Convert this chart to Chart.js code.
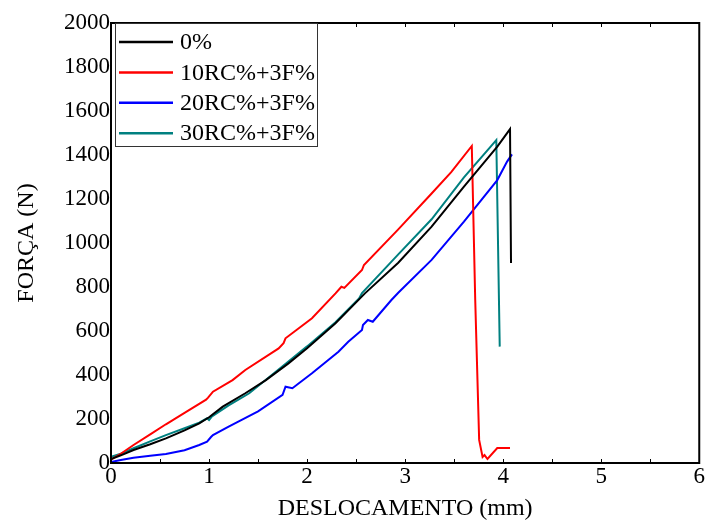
<!DOCTYPE html>
<html>
<head>
<meta charset="utf-8">
<script src="https://cdn.jsdelivr.net/npm/chart.js@4/dist/chart.umd.min.js"></script>
<style>
  html, body { margin: 0; padding: 0; background: #fff; }
  #wrap { width: 705px; height: 523px; }
</style>
</head>
<body>
<div id="wrap"><canvas id="c" width="705" height="523"></canvas></div>
<script>
// ---- data ----
const seriesLabels = ['0%', '10RC%+3F%', '20RC%+3F%', '30RC%+3F%'];
const seriesColors = ['#000000', '#ff0000', '#0000ff', '#008080'];

const x0 = [0, 0.1, 0.23, 0.4, 0.56, 0.75, 0.9, 1.0, 1.14, 1.37, 1.58, 1.81, 2.0, 2.29, 2.59, 2.93, 3.27, 3.6, 3.94, 4.07, 4.08];
const y0 = [18, 35, 59, 85, 112, 148, 180, 208, 256, 317, 377, 453, 522, 635, 771, 910, 1074, 1256, 1438, 1518, 909];

const x10 = [0, 0.1, 0.23, 0.4, 0.56, 0.75, 0.97, 0.99, 1.04, 1.24, 1.37, 1.71, 1.76, 1.78, 2.05, 2.29, 2.35, 2.38, 2.56, 2.58, 2.93, 3.27, 3.47, 3.68, 3.715, 3.755, 3.79, 3.81, 3.84, 3.94, 4.07];
const y10 = [15, 42, 82, 130, 176, 228, 288, 297, 324, 377, 423, 521, 545, 567, 658, 771, 801, 796, 877, 900, 1062, 1225, 1322, 1441, 741, 105, 27, 36, 18, 68, 68];

const x20 = [0, 0.1, 0.23, 0.4, 0.56, 0.75, 0.9, 0.98, 1.02, 1.04, 1.2, 1.5, 1.75, 1.78, 1.85, 2.05, 2.32, 2.42, 2.56, 2.57, 2.62, 2.67, 2.86, 2.93, 3.27, 3.6, 3.94, 4.04, 4.09];
const y20 = [5, 14, 24, 33, 41, 58, 82, 97, 118, 127, 165, 235, 310, 347, 340, 408, 506, 551, 605, 627, 650, 642, 741, 774, 923, 1097, 1286, 1370, 1403];

const x30 = [0, 0.1, 0.23, 0.4, 0.56, 0.75, 0.9, 0.98, 1.0, 1.03, 1.2, 1.41, 1.75, 2.0, 2.29, 2.53, 2.56, 2.93, 3.27, 3.6, 3.93, 3.965];
const y30 = [28, 42, 67, 98, 127, 158, 183, 203, 195, 212, 262, 317, 440, 530, 640, 748, 772, 948, 1108, 1298, 1468, 529];

const xTicks = [0, 1, 2, 3, 4, 5, 6];
const yTicks = [0, 200, 400, 600, 800, 1000, 1200, 1400, 1600, 1800, 2000];
const xTitle = 'DESLOCAMENTO (mm)';
const yTitle = 'FORÇA (N)';

// ---- build datasets ----
const xs = [x0, x10, x20, x30];
const ys = [y0, y10, y20, y30];
const datasets = seriesLabels.map((lab, i) => ({
  label: lab,
  data: xs[i].map((v, k) => ({ x: v, y: ys[i][k] })),
  borderColor: seriesColors[i],
  backgroundColor: seriesColors[i],
  borderWidth: 2,
  pointRadius: 0,
  showLine: true,
  tension: 0,
  fill: false
}));

const FONT = "'Liberation Serif', 'Times New Roman', serif";

const framePlugin = {
  id: 'frame',
  afterDatasetsDraw(chart) {
    const { ctx, chartArea: a, scales } = chart;
    ctx.save();
    ctx.strokeStyle = '#000';
    ctx.lineWidth = 2;
    ctx.strokeRect(a.left, a.top, a.right - a.left, a.bottom - a.top);
    // inward ticks on bottom and top every 0.5
    ctx.lineWidth = 1;
    const xs = scales.x;
    for (let v = 0.5; v < 6; v += 0.5) {
      const px = Math.round(xs.getPixelForValue(v)) + 0.5;
      ctx.beginPath();
      ctx.moveTo(px, a.bottom); ctx.lineTo(px, a.bottom - 4);
      ctx.moveTo(px, a.top); ctx.lineTo(px, a.top + 4);
      ctx.stroke();
    }
    ctx.restore();

    // legend
    ctx.save();
    const bx = a.left + 4, by = a.top, bw = 202, bh = 123;
    ctx.fillStyle = '#fff';
    ctx.fillRect(bx, by, bw, bh);
    ctx.strokeStyle = '#333';
    ctx.lineWidth = 1;
    ctx.strokeRect(bx + 0.5, by + 0.5, bw, bh);
    ctx.font = '24px ' + FONT;
    ctx.textBaseline = 'middle';
    ctx.textAlign = 'left';
    chart.data.datasets.forEach((ds, i) => {
      const cy = by + 19 + i * 30.4;
      ctx.strokeStyle = ds.borderColor;
      ctx.lineWidth = 2.5;
      ctx.beginPath();
      ctx.moveTo(bx + 4, cy); ctx.lineTo(bx + 58, cy);
      ctx.stroke();
      ctx.fillStyle = '#000';
      ctx.fillText(ds.label, bx + 65, cy + 1);
    });
    ctx.restore();
  }
};

new Chart(document.getElementById('c'), {
  type: 'scatter',
  data: { datasets },
  options: {
    responsive: false,
    animation: false,
    devicePixelRatio: 1,
    layout: { padding: { top: 23, right: 2, left: 0, bottom: 0 } },
    plugins: { legend: { display: false }, tooltip: { enabled: false } },
    scales: {
      x: {
        type: 'linear', min: 0, max: 6,
        afterFit(s) { s.height = 60; },
        afterBuildTicks(s) { s.ticks = xTicks.map(v => ({ value: v })); },
        grid: { display: false, drawTicks: false },
        border: { display: false },
        ticks: { color: '#000', font: { family: FONT, size: 23 }, padding: 0, maxRotation: 0, callback: v => String(v) },
        title: { display: true, text: xTitle, color: '#000', font: { family: FONT, size: 24 }, padding: { top: 0, bottom: 0 } }
      },
      y: {
        type: 'linear', min: 0, max: 2000,
        afterFit(s) { s.width = 111; },
        afterBuildTicks(s) { s.ticks = yTicks.map(v => ({ value: v })); },
        grid: { display: false, drawTicks: false },
        border: { display: false },
        ticks: { color: '#000', font: { family: FONT, size: 23 }, padding: 1, callback: v => String(v) },
        title: { display: true, text: yTitle, color: '#000', font: { family: FONT, size: 24 }, padding: { top: 12, bottom: 0 } }
      }
    }
  },
  plugins: [framePlugin]
});
</script>
</body>
</html>
